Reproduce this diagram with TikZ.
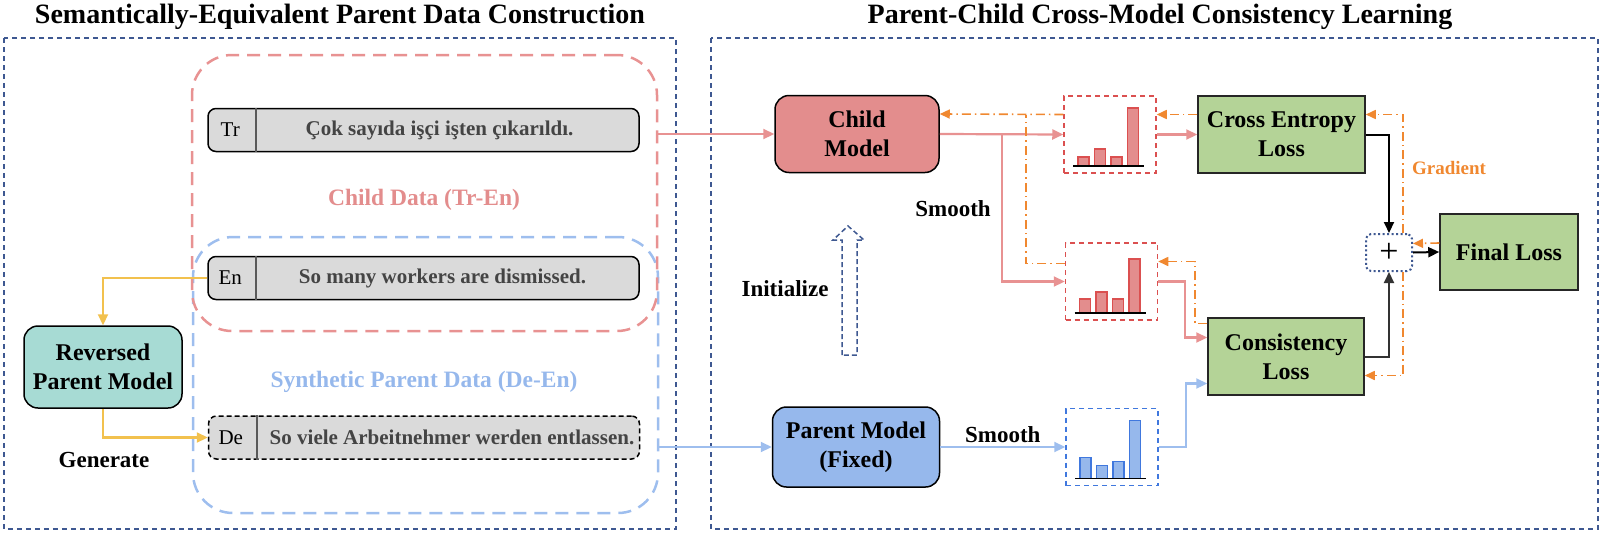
\documentclass[tikz,border=0pt]{standalone}
\usepackage{fontspec}
\setmainfont{Liberation Serif}
\usetikzlibrary{arrows.meta, positioning, calc}
\definecolor{navydash}{RGB}{62,88,145}
\definecolor{childred}{RGB}{227,141,141}
\definecolor{childline}{RGB}{232,146,146}
\definecolor{parentblue}{RGB}{150,184,236}
\definecolor{parentline}{RGB}{158,190,238}
\definecolor{distred}{RGB}{219,80,80}
\definecolor{distblue}{RGB}{64,120,222}
\definecolor{revteal}{RGB}{167,219,212}
\definecolor{lossgreen}{RGB}{180,211,151}
\definecolor{genyellow}{RGB}{242,193,78}
\definecolor{gradorange}{RGB}{240,136,48}
\definecolor{sentgray}{RGB}{218,218,218}
\definecolor{sentink}{RGB}{68,68,68}
\newcommand{\fsz}[2]{\fontsize{#1}{#2}\selectfont}
% bars of a distribution box: node, border, fill, heights
\newcommand{\bars}[4]{%
  \begin{scope}[shift={(#1.center)}]
    \foreach \h [count=\i] in {#4}
      \draw[draw=#2, fill=#3, line width=1.3pt] ({-32+16.5*(\i-1)},31.5) rectangle ++(11,-\h);
    \draw[line width=1.5pt] (-37,31.5) -- (34,31.5);
  \end{scope}}

\begin{document}
\begin{tikzpicture}[x=1pt, y=-1pt,
    outerframe/.style={draw=navydash, line width=1.5pt, dash pattern=on 5pt off 4pt},
    databox/.style={rounded corners=40pt, line width=2.5pt, dash pattern=on 13pt off 8pt,
                    minimum width=465pt, minimum height=276pt},
    sentbox/.style={draw=black, fill=sentgray, rounded corners=8pt, line width=1.5pt,
                    minimum width=431pt, minimum height=43pt, inner sep=0pt},
    sent/.style={font=\fsz{21}{25}\bfseries, text=sentink},
    datalbl/.style={font=\fsz{23.5}{28}\bfseries},
    model/.style={draw=black, rounded corners=14pt, line width=1.5pt, align=center,
                  font=\fsz{24}{29}\bfseries, minimum height=77pt, inner sep=0pt},
    loss/.style={draw=black!85, fill=lossgreen, line width=1.5pt, align=center,
                 font=\fsz{24}{29}\bfseries, minimum height=77pt, inner sep=0pt},
    dist/.style={line width=1.5pt, dash pattern=on 5pt off 4pt, minimum width=92pt, minimum height=77pt},
    lbl/.style={font=\fsz{23}{28}\bfseries, text=black},
    title/.style={font=\fsz{28}{33}\bfseries, anchor=base},
    conn/.style={line width=2.2pt, -{Triangle[length=11pt,width=10pt]}},
    grad/.style={gradorange, line width=1.6pt, dash pattern=on 9pt off 4pt on 1.5pt off 4pt,
                 -{Triangle[length=10pt,width=9pt]}}]
\useasboundingbox (0,0) rectangle (1610,536);

% titles and panels
\node[title] (lefttitle) at (340,23) {Semantically-Equivalent Parent Data Construction};
\node[title] (righttitle) at (1160,23) {Parent-Child Cross-Model Consistency Learning};
\draw[outerframe] (4,38) rectangle (676,529);
\draw[outerframe] (711,38) rectangle (1598,529);

% data
\node[databox, draw=parentline] (parentdata) at (425.5,375) {};
\node[databox, draw=childline] (childdata) at (424.5,193) {};
\node[sentbox] (tr) at (423.5,130) {};
\node[sentbox] (en) at (423.5,278) {};
\node[sentbox, dash pattern=on 5pt off 3pt] (de) at (424,437.5) {};
\foreach \b/\l in {tr/Tr,en/En,de/De} {
  \node[font=\fsz{21}{25}] (\b-lang) at ([xshift=23pt]\b.west) {\l};
  \draw[black!65, line width=2pt] ([xshift=49pt]\b.north west) -- ([xshift=49pt]\b.south west);
}
\node[sent] (tr-text) at ([xshift=16pt]tr.center) {Çok sayıda işçi işten çıkarıldı.};
\node[sent] (en-text) at ([xshift=19pt]en.center) {So many workers are dismissed.};
\node[sent] (de-text) at ([xshift=28pt]de.center) {So viele Arbeitnehmer werden entlassen.};
\node[datalbl, text=childred] (childlbl) at (424,200) {Child Data (Tr-En)};
\node[datalbl, text=parentblue] (parentlbl) at (424,382) {Synthetic Parent Data (De-En)};

\node[model, fill=revteal, minimum width=158pt, minimum height=82pt] (rev) at (103,367) {Reversed\\Parent Model};
\node[lbl] (generate) at (104,460) {Generate};
\draw[conn, genyellow] (en.west) -| (rev.north);
\draw[conn, genyellow] (rev.south) |- (de.west);

% models
\node[model, fill=childred, minimum width=164pt] (child) at (857,134) {Child\\Model};
\node[model, fill=parentblue, minimum width=167pt, minimum height=80pt] (parent) at (856,447) {Parent Model\\(Fixed)};
\node[lbl] (init) at (785,289) {Initialize};
\draw[navydash, line width=1.5pt, dash pattern=on 5pt off 3pt]
  (842,355) -- (842,240) -- (833,240) -- (848,226) -- (864,240) -- (857,240) -- (857,355) -- cycle;
\draw[conn, childline] (child.west -| childdata.east) -- (child.west);
\draw[conn, parentline] (parent.west -| parentdata.east) -- (parent.west);

% distributions
\node[dist, draw=distred] (d1) at (1110,134.5) {};
\node[dist, draw=distred] (d2) at (1111.5,281.5) {};
\node[dist, draw=distblue] (d3) at (1112,447) {};
\bars{d1}{distred}{childred}{9,17,9,58}
\bars{d2}{distred}{childred}{14,21,14,54}
\bars{d3}{distblue}{parentblue}{21,13,17,58}

% losses
\node[loss, minimum width=167pt] (ce) at (1281.5,134.5) {Cross Entropy\\Loss};
\node[loss, minimum width=156pt] (cons) at (1286,356.5) {Consistency\\Loss};
\node[loss, minimum width=138pt, minimum height=76pt] (final) at (1509,252) {Final Loss};
\node[draw=navydash, line width=2pt, dash pattern=on 2pt off 2.5pt, rounded corners=5pt, fill=white,
      minimum width=46pt, minimum height=37pt, inner sep=0pt, font=\fsz{34}{34}] (plus) at (1389,252.5) {+};

% forward
\coordinate (smoothsplit) at ($(child.east)+(62,0)$);
\draw[conn, childline] (child.east) -- (d1.west);
\draw[conn, childline] (smoothsplit) |- (d2.west);
\node[lbl] (smoothtop) at (953,209) {Smooth};
\draw[conn, parentline] (parent.east) -- (d3.west) node[lbl, midway, above] (smoothbot) {Smooth};
\draw[conn, childline] (d1.east) -- (ce.west);
\draw[conn, childline] (d2.east) -- ++(27,0) |- ([yshift=19pt]cons.west);
\draw[conn, parentline] (d3.east) -- ++(27,0) |- ([yshift=-27pt]cons.west);
\draw[conn, black, line width=2pt] (ce.east) -| (plus.north);
\draw[conn, black!80, line width=2pt] (cons.east) -| (plus.south);
\draw[conn, black, line width=2pt] (plus.east) -- (final.west);

% gradient
\draw[grad] ([yshift=9pt]final.west) -- ([yshift=9pt]plus.east);
\draw[grad] ([xshift=14pt]plus.north) |- ([yshift=20pt]ce.east);
\draw[grad] ([xshift=14pt]plus.south) |- ([yshift=-19pt]cons.east);
\node[font=\fsz{19}{23}\bfseries, text=gradorange] (gradlbl) at (1449,168) {Gradient};
\draw[grad] ([yshift=20pt]ce.west) -- ([yshift=20pt]d1.east);
\draw[grad] ([yshift=20pt]d1.west) -- ([yshift=20pt]child.east);
\draw[grad, -] ([yshift=18pt]d2.west) -| ($(smoothsplit)+(24,-19)$);
\draw[grad] ([yshift=33pt]cons.west) -- ++(-12,0) |- ([yshift=20pt]d2.east);
\end{tikzpicture}
\end{document}
